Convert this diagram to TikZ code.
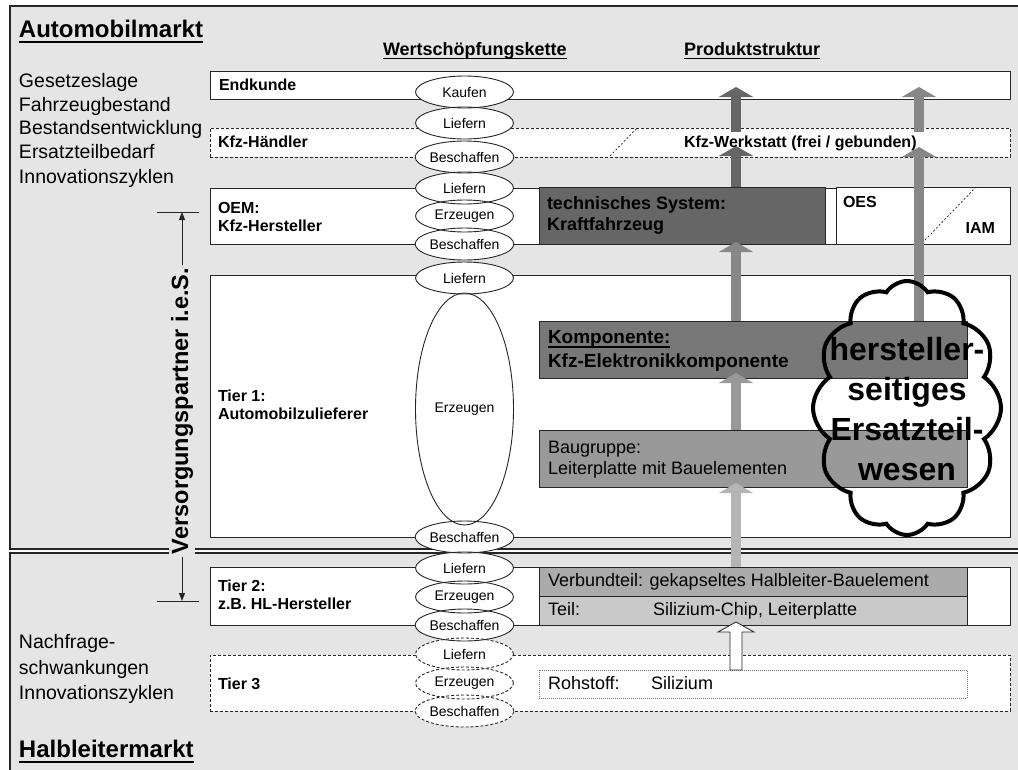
\documentclass[tikz,border=0pt]{standalone}
\usepackage{fontspec}
\setmainfont{Liberation Sans}
\usetikzlibrary{shapes.geometric,shapes.symbols,arrows.meta,fit}

\definecolor{panelfill}{gray}{0.90}
\definecolor{edge}{gray}{0.15}
\definecolor{sysfill}{gray}{0.40}
\definecolor{kompfill}{gray}{0.47}
\definecolor{baufill}{gray}{0.60}
\definecolor{verbfill}{gray}{0.67}
\definecolor{teilfill}{gray}{0.79}
\definecolor{flowA}{gray}{0.40}
\definecolor{flowB}{gray}{0.53}
\definecolor{flowC}{gray}{0.60}
\definecolor{flowD}{gray}{0.71}

\newcommand{\fsz}[1]{\fontsize{#1}{#1}\selectfont}
\newcommand{\fszl}[2]{\fontsize{#1}{#2}\selectfont}
\newcommand{\myul}[1]{\setbox0=\hbox{#1}\rlap{\copy0}\rule[-0.24em]{\wd0}{0.09em}}

\begin{document}
\begin{tikzpicture}[x=1pt,y=-1pt,
  every node/.style={inner sep=0pt,outer sep=0pt},
  panel/.style={draw=edge,line width=1.3pt,fill=panelfill,inner sep=0pt},
  row/.style={draw=edge,line width=1pt,fill=white,inner sep=0pt},
  dashrow/.style={row,dash pattern=on 3pt off 2pt},
  prod/.style={draw=edge,line width=0.7pt,inner sep=0pt},
  lbl/.style={anchor=base west,font=\fsz{16}\bfseries},
  plain/.style={anchor=base west,font=\fsz{18}},
  side/.style={anchor=base west,font=\fsz{19.5}},
  head/.style={anchor=base west,font=\fsz{18}\bfseries},
  market/.style={anchor=base west,font=\fsz{24}\bfseries},
  ell/.style={ellipse,draw=edge,line width=0.9pt,minimum width=98pt,font=\fsz{14}},
  blk/.style={line width=10pt,-{Triangle[width=34pt,length=10pt]}},
  thinarrow/.style={draw=edge,line width=1pt,-{Triangle[width=6pt,length=8pt]}},
  diag/.style={draw=edge,line width=0.7pt,dash pattern=on 2pt off 2pt},
]
\useasboundingbox (0,0) rectangle (1018,769);
\clip (0,0) rectangle (1018,769);

% ---- the two markets ----
\node[panel, fit={(10,6) (1030,549)}] (auto) {};
\node[panel, fit={(10,553) (1030,790)}] (halb) {};

\node[market] (tAuto) at (19,37) {\myul{Automobilmarkt}};
\node[market] (tHalb) at (19,757) {\myul{Halbleitermarkt}};

\node[side] (s1) at (19,87)  {Gesetzeslage};
\node[side] (s2) at (19,111) {Fahrzeugbestand};
\node[side] (s3) at (19,134) {Bestandsentwicklung};
\node[side] (s4) at (19,158) {Ersatzteilbedarf};
\node[side] (s5) at (19,183) {Innovationszyklen};
\node[side] (s6) at (19,648) {Nachfrage-};
\node[side] (s7) at (19,674) {schwankungen};
\node[side] (s8) at (19,699) {Innovationszyklen};

\node[head] (hWert) at (383,55) {\myul{Wertschöpfungskette}};
\node[head] (hProd) at (684,55) {\myul{Produktstruktur}};

% ---- rows of the supply chain ----
\node[row, fit={(210,71) (1010,99)}] (endk) {};
\node[dashrow, fit={(210,128) (1010,157)}] (haendler) {};
\node[row, fit={(210,188) (1010,244)}] (oem) {};
\node[row, fit={(210,275) (1010,537)}] (tier1) {};
\node[row, fit={(210,567) (1010,625)}] (tier2) {};
\node[dashrow, fit={(210,655) (1010,711)}] (tier3) {};

\node[lbl] (lEnd) at (219,90) {Endkunde};
\node[lbl] (lHae) at (218,147) {Kfz-Händler};
\node[lbl] (lOem1) at (218,213) {OEM:};
\node[lbl] (lOem2) at (218,231) {Kfz-Hersteller};
\node[lbl] (lT1a) at (218,401) {Tier 1:};
\node[lbl] (lT1b) at (218,419) {Automobilzulieferer};
\node[lbl] (lT2a) at (218,591) {Tier 2:};
\node[lbl] (lT2b) at (218,609) {z.B. HL-Hersteller};
\node[lbl] (lT3) at (218,689) {Tier 3};

% ---- product structure ----
\node[prod, fill=sysfill, fit={(539,187) (825,244)}] (sys) {};
\node[row, fit={(836,187) (1010,244)}] (oes) {};
\node[prod, fill=kompfill, fit={(539,321) (967,378)}] (komp) {};
\node[prod, fill=baufill, fit={(539,430) (967,487)}] (baug) {};
\node[prod, fill=verbfill, fit={(539,567) (967,596)}] (verb) {};
\node[prod, fill=teilfill, fit={(539,596) (967,625)}] (teil) {};
\node[draw=black!55, line width=0.8pt, dash pattern=on 1pt off 1pt, fill=white, fit={(539,670) (967,698)}] (roh) {};

\coordinate (wsA) at (610,156);
\coordinate (wsB) at (637,128);
\draw[diag] (wsA) -- (wsB);
\coordinate (oesA) at (925,240);
\coordinate (oesB) at (976,187);
\draw[diag] (oesA) -- (oesB);

% ---- flow of parts upwards ----
\coordinate (tipA1) at (736,146);
\coordinate (srcA2) at (736,132);
\coordinate (tipA2) at (736,87);
\coordinate (tipE) at (736,242);
\coordinate (tipF) at (736,373);
\coordinate (tipG) at (736,483);
\coordinate (tipC) at (919,147);
\coordinate (srcD) at (919,132);
\coordinate (tipD) at (919,87);

\draw[blk, color=flowA] (sys.north -| tipA1) -- (tipA1);
\draw[blk, color=flowA] (srcA2) -- (tipA2);
\draw[blk, color=flowB] (komp.north -| tipE) -- (tipE);
\draw[blk, color=flowC] (baug.north -| tipF) -- (tipF);
\draw[blk, color=flowD] (verb.north -| tipG) -- (tipG);
\draw[blk, color=flowB] (komp.north -| tipC) -- (tipC);
\draw[blk, color=flowB] (srcD) -- (tipD);

% raw material into the semiconductor parts (outlined arrow)
\coordinate (tipH) at (736,622);
\draw[draw=edge, line width=0.8pt, fill=white]
  (roh.north -| 730,0) -- (730,632) -- (718,632) -- (tipH) -- (754,632)
  -- (742,632) -- (roh.north -| 742,0) -- cycle;

% ---- texts of the product structure ----
\node[lbl] (lWerk) at (684,147) {Kfz-Werkstatt (frei / gebunden)};
\node[lbl] (lOes) at (843,207) {OES};
\node[anchor=base east, font=\fsz{16}\bfseries] (lIam) at (995,233) {IAM};
\node[anchor=base west, font=\fsz{18}\bfseries] (lSys1) at (547,209) {technisches System:};
\node[anchor=base west, font=\fsz{18}\bfseries] (lSys2) at (547,230) {Kraftfahrzeug};
\node[anchor=base west, font=\fsz{19}\bfseries] (lKomp1) at (548,343) {\myul{Komponente:}};
\node[anchor=base west, font=\fsz{19}\bfseries] (lKomp2) at (548,367) {Kfz-Elektronikkomponente};
\node[plain] (lBau1) at (548,453) {Baugruppe:};
\node[plain] (lBau2) at (548,474) {Leiterplatte mit Bauelementen};
\node[plain] (lVerb) at (548,586) {Verbundteil: gekapseltes Halbleiter-Bauelement};
\node[plain] (lTeil1) at (548,615) {Teil:};
\node[plain] (lTeil2) at (653,615) {Silizium-Chip, Leiterplatte};
\node[plain] (lRoh1) at (548,689) {Rohstoff:};
\node[plain] (lRoh2) at (651,689) {Silizium};

% ---- activities of the value chain ----
\foreach \y/\h in {92/32,123/32,157/32,188/32,216/32,244/32,278/32,409/232,
                   537/32,568/32,597/32,625/32,654/32,683/32,711/32}
  \fill[white] (464.5,\y) ellipse [x radius=49, y radius=\h/2];
\foreach \y/\h/\t [count=\i] in {92/32/Kaufen,123/32/Liefern,157/32/Beschaffen,
    188/32/Liefern,216/32/Erzeugen,244/32/Beschaffen,278/32/Liefern,
    409/232/Erzeugen,537/32/Beschaffen,568/32/Liefern,597/32/Erzeugen,
    625/32/Beschaffen}
  \node[ell, minimum height=\h pt] (act\i) at (464.5,\y) {\t};
\foreach \y/\t [count=\i] in {654/Liefern,683/Erzeugen,711/Beschaffen}
  \node[ell, minimum height=32pt, dash pattern=on 3pt off 2pt] (actd\i) at (464.5,\y) {\t};

% ---- supply partners in the narrow sense ----
\node[rotate=90, fill=panelfill, inner xsep=3pt, inner ysep=2pt,
      font=\fsz{23.5}\bfseries] (vsp) at (182,411) {Versorgungspartner i.e.S.};
\coordinate (barTL) at (157,212);
\coordinate (barTR) at (199,212);
\coordinate (barBL) at (157,601);
\coordinate (barBR) at (199,601);
\coordinate (vTop) at (182,212);
\coordinate (vBot) at (182,601);
\draw[edge, line width=1pt] (barTL) -- (barTR);
\draw[edge, line width=1pt] (barBL) -- (barBR);
\draw[thinarrow] (vsp.east) -- (vTop);
\draw[thinarrow] (vsp.west) -- (vBot);

% ---- spare parts business of the manufacturers ----
\node[cloud, cloud puffs=12, cloud puff arc=115, cloud ignores aspect,
      draw=black, line width=4pt, minimum width=188pt, minimum height=254pt]
      (ersatz) at (907,408) {};
\node[font=\fszl{32}{40}\bfseries, align=center] (lErsatz) at (907,409)
      {hersteller-\\seitiges\\Ersatzteil-\\wesen};
\end{tikzpicture}
\end{document}
